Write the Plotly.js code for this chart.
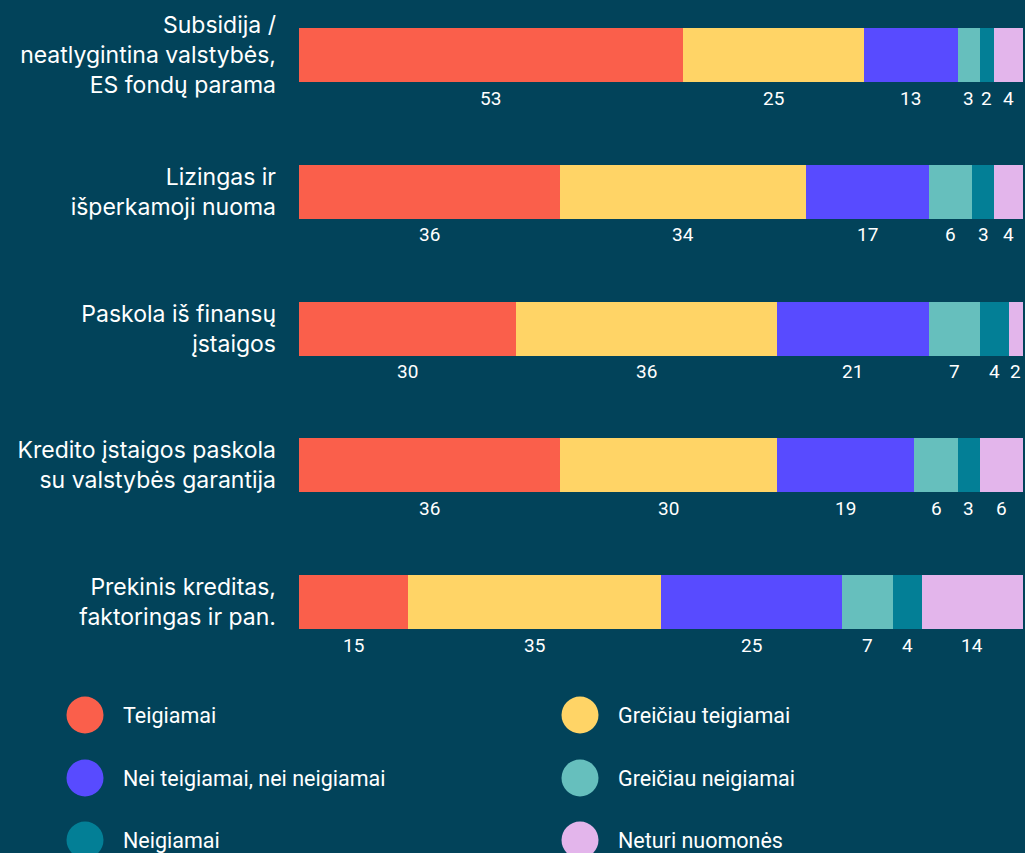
<!DOCTYPE html>
<html>
<head>
<meta charset="utf-8">
<script src="https://cdn.plot.ly/plotly-3.0.1.min.js"></script>
<style>html,body{margin:0;padding:0;background:#02435A;}</style>
</head>
<body>
<div id="chart" style="width:1025px;height:853px;"></div>
<script>
const categories = [
  "Subsidija /<br>neatlygintina valstybės,<br>ES fondų parama",
  "Lizingas ir<br>išperkamoji nuoma",
  "Paskola iš finansų<br>įstaigos",
  "Kredito įstaigos paskola<br>su valstybės garantija",
  "Prekinis kreditas,<br>faktoringas ir pan."
];
const seriesNames = ["Teigiamai", "Greičiau teigiamai", "Nei teigiamai, nei neigiamai", "Greičiau neigiamai", "Neigiamai", "Neturi nuomonės"];
const teigiamai = [53, 36, 30, 36, 15];
const greiciauTeigiamai = [25, 34, 36, 30, 35];
const neiNei = [13, 17, 21, 19, 25];
const greiciauNeigiamai = [3, 6, 7, 6, 7];
const neigiamai = [2, 3, 4, 3, 4];
const neturiNuomones = [4, 4, 2, 6, 14];
const seriesValues = [teigiamai, greiciauTeigiamai, neiNei, greiciauNeigiamai, neigiamai, neturiNuomones];
const colors = ["#FA5F4B", "#FFD466", "#584BFF", "#66BFBD", "#037F96", "#E3B5EB"];

const W = 1025, H = 853, L = 299, R = 2, T = 10, B = 183;
const PW = W - L - R, PH = H - T - B;
const px = p => (p - L) / PW;
const py = p => (H - B - p) / PH;
const FONT = "Roboto, 'Noto Sans', sans-serif";
const CATFONT = "Inter, Roboto, sans-serif";

const traces = seriesNames.map((name, i) => ({
  type: "bar",
  orientation: "h",
  name: name,
  y: categories,
  x: seriesValues[i],
  width: 0.395,
  marker: {color: colors[i], line: {width: 0}},
  hoverinfo: "x+name",
  showlegend: false
}));

const annotations = [];
categories.forEach((c, ci) => {
  let cum = 0;
  seriesValues.forEach((vals) => {
    const v = vals[ci];
    annotations.push({
      x: cum + v / 2, y: c, xref: "x", yref: "y",
      text: String(v), showarrow: false, yshift: -43,
      font: {family: FONT, size: 19, color: "#FFFFFF"}
    });
    cum += v;
  });
});

const shapes = [];
const legCx = [85, 580], legCy = [715, 778, 840];
seriesNames.forEach((name, i) => {
  const col = i % 2, row = Math.floor(i / 2);
  shapes.push({
    type: "circle", xref: "paper", yref: "paper",
    xsizemode: "pixel", ysizemode: "pixel",
    xanchor: px(legCx[col]), yanchor: py(legCy[row]),
    x0: -18.5, x1: 18.5, y0: -18.5, y1: 18.5,
    fillcolor: colors[i], line: {width: 0}
  });
  annotations.push({
    xref: "paper", yref: "paper", x: px(legCx[col] + 36), y: py(legCy[row]),
    xanchor: "left", yanchor: "middle", showarrow: false, text: name,
    font: {family: FONT, size: 21.5, color: "#FFFFFF"}
  });
});

const layout = {
  width: W, height: H,
  margin: {l: L, r: R, t: T, b: B, pad: 0},
  paper_bgcolor: "#02435A",
  plot_bgcolor: "#02435A",
  barmode: "stack",
  showlegend: false,
  font: {family: FONT, color: "#FFFFFF"},
  xaxis: {range: [0, 100], visible: false, fixedrange: true},
  yaxis: {
    type: "category",
    range: [4.497, -0.33],
    showgrid: false, zeroline: false, showline: false,
    ticks: "", ticklabelstandoff: 22,
    tickfont: {family: CATFONT, size: 23, color: "#FFFFFF"},
    fixedrange: true
  },
  shapes: shapes,
  annotations: annotations
};

Plotly.newPlot("chart", traces, layout, {displayModeBar: false, staticPlot: true});
</script>
</body>
</html>
